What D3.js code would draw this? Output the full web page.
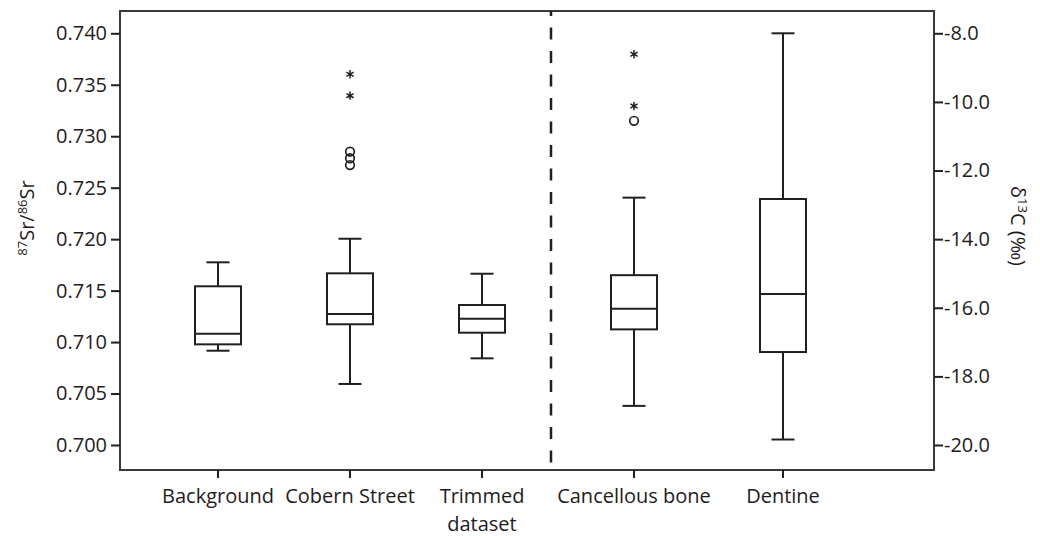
<!DOCTYPE html>
<html>
<head>
<meta charset="utf-8">
<script src="https://cdn.jsdelivr.net/npm/d3@7"></script>
<style>
  body { margin: 0; background: #fff; }
  text { font-family: "Open Sans", sans-serif; fill: #1f1b1c; }
</style>
</head>
<body>
<div id="chart"></div>
<script>
// Sr isotope panel (left axis)
const srGroups = ["Background", "Cobern Street", "Trimmed dataset"];
const srLow = [0.70916, 0.70593, 0.70842];
const srQ1 = [0.70978, 0.71173, 0.71091];
const srMedian = [0.71081, 0.71273, 0.71227];
const srQ3 = [0.71542, 0.71668, 0.71360];
const srHigh = [0.71775, 0.72004, 0.71664];
const srCircles = [[], [0.72850, 0.72786, 0.72720], []];
const srStars = [[], [0.73602, 0.73394], []];
const srTicks = [0.700, 0.705, 0.710, 0.715, 0.720, 0.725, 0.730, 0.735, 0.740];

// Carbon panel (right axis)
const cGroups = ["Cancellous bone", "Dentine"];
const cLow = [-18.86, -19.84];
const cQ1 = [-16.63, -17.29];
const cMedian = [-16.03, -15.60];
const cQ3 = [-15.05, -12.83];
const cHigh = [-12.79, -8.0];
const cCircles = [[-10.55], []];
const cStars = [[-8.61, -10.12], []];
const cTicks = [-20, -18, -16, -14, -12, -10, -8];

const width = 1040;
const height = 536;
const frame = { left: 120, right: 934, top: 11, bottom: 470 };
const ink = '#231f20';

const svg = d3.select('#chart')
  .append('svg')
  .attr('width', width)
  .attr('height', height);

const ySr = d3.scaleLinear().domain([0.700, 0.740]).range([445, 33.3]);
const yC = d3.scaleLinear().domain([-20, -8]).range([445, 33.3]);

const xSr = d3.scalePoint().domain(srGroups).range([218, 482]);
const xC = d3.scalePoint().domain(cGroups).range([634, 783]);

const toRows = (groups, low, q1, med, q3, high, circles, stars) =>
  groups.map((g, i) => ({ g, low: low[i], q1: q1[i], med: med[i], q3: q3[i], high: high[i], circles: circles[i], stars: stars[i] }));

const srRows = toRows(srGroups, srLow, srQ1, srMedian, srQ3, srHigh, srCircles, srStars);
const cRows = toRows(cGroups, cLow, cQ1, cMedian, cQ3, cHigh, cCircles, cStars);

// Frame
svg.append('rect')
  .attr('x', frame.left)
  .attr('y', frame.top)
  .attr('width', frame.right - frame.left)
  .attr('height', frame.bottom - frame.top)
  .attr('fill', 'none')
  .attr('stroke', '#3a3a3a')
  .attr('stroke-width', 2);

// Divider between the two panels
svg.append('line')
  .attr('x1', 551).attr('x2', 551)
  .attr('y1', frame.top).attr('y2', frame.bottom)
  .attr('stroke', ink)
  .attr('stroke-width', 2.5)
  .attr('stroke-dasharray', '12,11.5')
  .attr('stroke-dashoffset', 7);

// Left axis
const leftAxis = svg.append('g')
  .attr('transform', `translate(${frame.left},0)`)
  .call(d3.axisLeft(ySr).tickValues(srTicks).tickFormat(d3.format('.3f')).tickSize(9).tickPadding(4));

// Right axis
const rightAxis = svg.append('g')
  .attr('transform', `translate(${frame.right},0)`)
  .call(d3.axisRight(yC).tickValues(cTicks).tickFormat((d) => d3.format('.1f')(d).replace('\u2212', '-')).tickSize(9).tickPadding(1));

[leftAxis, rightAxis].forEach((ax) => {
  ax.select('.domain').remove();
  ax.selectAll('.tick line').attr('stroke', ink).attr('stroke-width', 2);
  ax.selectAll('.tick text').attr('font-size', 20).attr('fill', '#1f1b1c').style('font-family', '"Open Sans", sans-serif');
});

// Bottom category ticks and labels
const bottom = svg.append('g');
const cats = [
  ...srGroups.map((g) => ({ g, x: xSr(g) })),
  ...cGroups.map((g) => ({ g, x: xC(g) })),
];

bottom.selectAll('line')
  .data(cats)
  .enter()
  .append('line')
  .attr('x1', (d) => d.x).attr('x2', (d) => d.x)
  .attr('y1', frame.bottom).attr('y2', frame.bottom + 8)
  .attr('stroke', ink)
  .attr('stroke-width', 2);

bottom.selectAll('text')
  .data(cats)
  .enter()
  .append('text')
  .attr('x', (d) => d.x)
  .attr('y', 503)
  .attr('text-anchor', 'middle')
  .attr('font-size', 20)
  .each(function (d) {
    const words = d.g === 'Trimmed dataset' ? ['Trimmed', 'dataset'] : [d.g];
    words.forEach((w, i) => {
      d3.select(this).append('tspan')
        .attr('x', d.x)
        .attr('dy', i === 0 ? 0 : 27.5)
        .text(w);
    });
  });

// Box plots
function drawBoxes(rows, x, y) {
  const boxW = 46;
  const capW = 23;
  const g = svg.append('g')
    .attr('stroke', ink)
    .attr('stroke-width', 2)
    .attr('fill', 'none');

  const box = g.selectAll('g')
    .data(rows)
    .enter()
    .append('g');

  // whiskers
  box.append('line')
    .attr('x1', (d) => x(d.g)).attr('x2', (d) => x(d.g))
    .attr('y1', (d) => y(d.high)).attr('y2', (d) => y(d.q3));
  box.append('line')
    .attr('x1', (d) => x(d.g)).attr('x2', (d) => x(d.g))
    .attr('y1', (d) => y(d.q1)).attr('y2', (d) => y(d.low));
  // caps
  box.append('line')
    .attr('x1', (d) => x(d.g) - capW / 2).attr('x2', (d) => x(d.g) + capW / 2)
    .attr('y1', (d) => y(d.high)).attr('y2', (d) => y(d.high));
  box.append('line')
    .attr('x1', (d) => x(d.g) - capW / 2).attr('x2', (d) => x(d.g) + capW / 2)
    .attr('y1', (d) => y(d.low)).attr('y2', (d) => y(d.low));
  // box
  box.append('rect')
    .attr('x', (d) => x(d.g) - boxW / 2)
    .attr('y', (d) => y(d.q3))
    .attr('width', boxW)
    .attr('height', (d) => y(d.q1) - y(d.q3))
    .attr('fill', '#fff');
  // median
  box.append('line')
    .attr('x1', (d) => x(d.g) - boxW / 2).attr('x2', (d) => x(d.g) + boxW / 2)
    .attr('y1', (d) => y(d.med)).attr('y2', (d) => y(d.med));

  box.each(function (d) {
    // mild outliers
    d3.select(this).selectAll('circle')
      .data(d.circles)
      .enter()
      .append('circle')
      .attr('cx', x(d.g))
      .attr('cy', (v) => y(v))
      .attr('r', 4.3)
      .attr('stroke-width', 1.7);

    // extreme outliers
    d3.select(this).selectAll('path.star')
      .data(d.stars)
      .enter()
      .append('path')
      .attr('class', 'star')
      .attr('transform', (v) => `translate(${x(d.g)},${y(v)})`)
      .attr('d', d3.symbol(d3.symbolAsterisk, 48))
      .attr('stroke-width', 1.5);
  });
}

drawBoxes(srRows, xSr, ySr);
drawBoxes(cRows, xC, yC);

// Axis titles
const leftTitle = svg.append('text')
  .attr('transform', 'translate(34,218) rotate(-90)')
  .attr('text-anchor', 'middle')
  .attr('font-size', 20);
leftTitle.append('tspan').attr('font-size', 13).attr('dy', -7).text('87');
leftTitle.append('tspan').attr('dy', 7).text('Sr/');
leftTitle.append('tspan').attr('font-size', 13).attr('dy', -7).text('86');
leftTitle.append('tspan').attr('dy', 7).text('Sr');

const rightTitle = svg.append('text')
  .attr('transform', 'translate(1011,226) rotate(90)')
  .attr('text-anchor', 'middle')
  .attr('font-size', 20);
rightTitle.append('tspan').text('δ');
rightTitle.append('tspan').attr('font-size', 13).attr('dy', -7).text('13');
rightTitle.append('tspan').attr('dy', 7).text('C (‰)');
</script>
</body>
</html>
